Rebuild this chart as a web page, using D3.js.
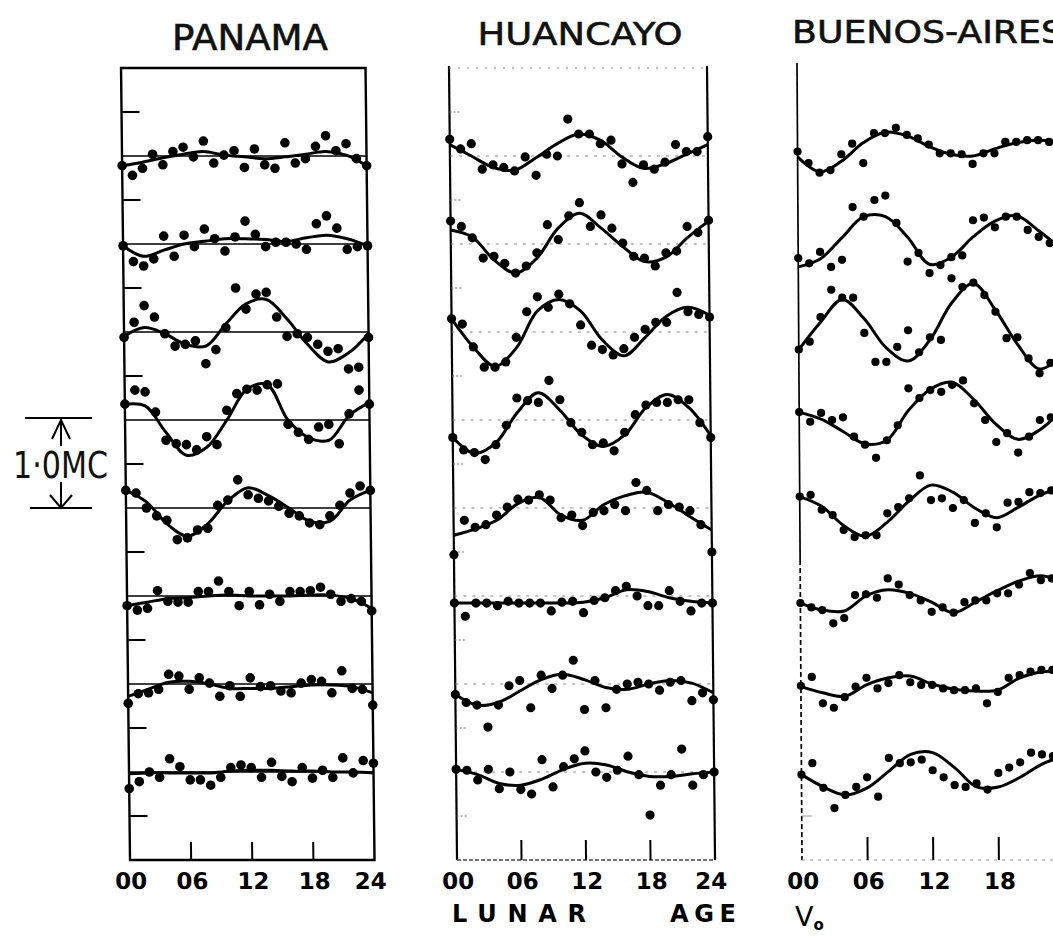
<!DOCTYPE html>
<html><head><meta charset="utf-8">
<script src="https://cdn.jsdelivr.net/npm/d3@7"></script>
<style>body{margin:0;background:#fff}svg{display:block}</style>
</head><body>
<svg id="chart" width="1053" height="936"></svg>
<script>
// ---------- DATA (deviations of foF2 in kc/s; rows stacked 1.0 MC apart) ----------
const stations = ["PANAMA", "HUANCAYO", "BUENOS-AIRES"];
const dotAges = [0,1,2,3,4,5,6,7,8,9,10,11,12,13,14,15,16,17,18,19,20,21,22,23,24];
const curveAges = [0,2,4,6,8,10,12,14,16,18,20,22,24];
const tickAges = [0,6,12,18,24];
const tickLabels = ["00","06","12","18","24"];
const rowOffsets = [0,-1000,-2000,-3000,-4000,-5000,-6000,-7000];
const leftTicks = [500,-500,-1500,-2500,-3500,-4500,-5500,-6500,-7500];

const panamaCurves = [
 [-110,-70,-20,20,50,10,-10,-30,-10,20,50,10,-110],
 [-20,-140,-70,0,30,60,60,50,30,70,100,60,-20],
 [-50,50,-20,-140,-160,90,320,370,150,-140,-340,-240,-20],
 [180,160,-140,-400,-310,0,350,400,0,-200,-230,50,200],
 [200,70,-180,-320,-180,80,230,140,0,-150,-150,90,200],
 [-110,-70,-30,-20,0,10,0,0,0,10,10,-30,-140],
 [-140,-60,20,30,0,-50,-50,-50,-30,-10,-10,-30,-100],
 [-20,-10,-10,-10,-10,10,20,20,10,10,0,0,-10]
];
const panamaDots = [
 [-110,-220,-140,20,-100,50,100,-10,170,-80,10,60,-130,80,-100,-140,150,-80,-30,110,230,60,140,-30,-110],
 [-20,-200,-250,-170,90,-140,100,-30,170,60,-80,80,260,110,-30,20,20,0,-60,230,320,180,-60,-30,-20],
 [-60,110,300,170,-20,-160,-140,-100,-360,-200,50,500,260,430,450,170,-50,-20,-60,-140,-220,-190,-420,-400,-60],
 [180,340,320,90,-230,-270,-280,-340,-190,-280,110,300,350,340,400,410,-50,-140,-220,-80,-50,-270,70,340,180],
 [200,170,0,-90,-140,-360,-340,-250,-230,30,90,320,150,110,80,20,-60,-90,-170,-190,-90,30,170,250,200],
 [-110,-160,-140,60,-60,-70,-70,50,50,170,50,-110,50,-100,20,-60,50,50,60,100,20,-60,-30,-60,-170],
 [-220,-110,-100,-60,110,90,-60,70,10,-140,-20,-140,70,-30,-20,-80,-100,10,50,30,-100,150,-50,-60,-240],
 [-190,-110,0,-60,150,60,-90,-90,-150,-60,50,80,50,-60,110,-50,-110,50,-70,20,-60,160,-10,130,100]
];

const huancayoCurves = [
 [130,0,-130,-160,-20,140,250,180,-10,-140,-90,20,130],
 [160,80,-180,-330,-160,180,350,180,-30,-200,-150,70,260],
 [150,-170,-390,-180,240,370,240,-90,-270,-60,180,280,190],
 [-200,-380,-260,80,310,110,-170,-300,-170,140,290,140,-180],
 [-310,-240,-140,50,120,-80,-140,40,140,180,60,-100,-250],
 [-80,-80,-80,-80,-80,-80,-70,-20,70,50,-20,-60,-80],
 [-120,-240,-210,-80,50,110,50,-40,-60,0,40,10,-100],
 [30,-30,-130,-150,-80,30,100,80,0,-50,-50,-20,0]
];
const huancayoDots = [
 [190,80,140,-150,-100,-130,-170,-10,-220,20,0,420,250,250,140,180,-90,-300,-100,-150,-70,130,50,50,220],
 [260,200,70,-160,-140,-220,-330,-250,-100,220,50,320,470,200,330,180,10,-140,-160,-250,-100,-80,200,130,270],
 [150,90,-170,-400,-400,-340,-60,230,400,280,430,320,80,-150,-200,-260,-190,-60,30,110,110,450,230,200,170],
 [-200,-340,-370,-450,-280,-60,250,220,200,450,230,-30,-140,-280,-260,-350,-140,60,170,200,200,230,230,-30,-200],
 [-530,-140,-220,-190,-80,10,100,90,150,90,-110,-80,-200,-50,-30,40,-30,290,200,-30,40,10,-30,-190,-500],
 [-80,-230,-80,-80,-110,-60,-80,-80,-80,-170,-70,-60,-190,-50,-20,60,110,0,-110,-110,60,-60,-170,-80,-80],
 [-120,-210,-240,-490,-240,-20,40,-270,100,-50,100,270,-290,40,-270,-60,0,20,0,-70,20,40,-190,-100,-180],
 [30,20,-90,30,-190,0,-200,-250,140,-170,60,150,240,0,-60,20,180,-30,-490,-150,-30,260,-150,-30,0]
];

const buenosCurves = [
 [-10,-180,-60,150,270,230,110,20,0,80,150,180,160],
 [-260,-170,70,310,310,80,-230,-150,80,260,320,150,-50],
 [-200,110,370,150,-180,-330,-90,330,550,250,-140,-420,-280],
 [90,10,-130,-270,-230,110,350,430,230,-50,-220,-110,110],
 [130,20,-200,-320,-160,80,260,180,0,-110,10,150,230],
 [-80,-160,-170,0,70,30,-70,-190,-70,60,170,230,160],
 [-30,-100,-140,-10,70,90,0,-60,-80,-70,70,140,140],
 [-30,-170,-260,-180,10,200,220,50,-170,-170,-60,90,180]
];
const buenosDots = [
 [50,-80,-190,-160,20,140,-80,260,260,320,240,200,130,30,30,20,-90,30,30,160,160,180,180,160,160],
 [-160,-220,-90,-260,-180,420,310,500,550,240,-200,-100,-330,-240,-150,-130,270,300,190,310,310,160,80,10,-100],
 [-200,-110,170,480,390,390,-10,-340,-340,-170,20,-230,-60,-90,610,510,560,420,230,-70,-60,-300,-470,-350,-230],
 [90,-20,80,0,30,-190,-280,-430,-230,-60,360,250,340,320,400,450,190,0,-250,-150,-370,-190,0,30,110],
 [130,150,-20,-80,-250,-330,-310,-310,-60,10,110,370,90,110,0,90,-170,-60,-220,60,70,180,170,200,230],
 [-80,-130,-160,-310,-250,10,20,-20,200,130,10,-50,-180,-130,-190,-70,-50,-50,30,30,130,260,180,200,160],
 [-20,80,-220,-270,-150,-30,70,-50,10,100,20,-10,-10,-50,-70,-70,-50,-220,-90,70,100,140,160,160,140],
 [-30,100,-180,-410,-260,-170,-60,-280,160,100,110,140,20,-60,-150,-170,-130,-200,-10,50,110,220,200,180,180]
];

// ---------- LAYOUT ----------
const svg = d3.select("#chart");
const y = d3.scaleLinear().domain([1000, -8000]).range([68, 860]);
const midY = 462;
const FONT = "'DejaVu Sans', Arial, sans-serif";

const panels = [
  {curves: panamaCurves, dots: panamaDots, range: [125.5, 370], skew: 0.65, r: 4.8, kind: "box",
   title: {x: 250, y: 50, size: 35, len: 156, anchor: "middle"}, tickLen: 18, labels: 5},
  {curves: huancayoCurves, dots: huancayoDots, range: [453, 711], skew: 0.58, r: 4.6, kind: "open",
   title: {x: 580, y: 45, size: 32, len: 205, anchor: "middle"}, tickLen: 20, labels: 5},
  {curves: buenosCurves, dots: buenosDots, range: [799.5, 1062], skew: 0.36, r: 4.1, kind: "left",
   title: {x: 792, y: 43, size: 32, len: 272, anchor: "start"}, tickLen: 23, labels: 4}
];

panels.forEach((p, pi) => {
  // title (not skewed)
  svg.append("text")
    .attr("x", p.title.x).attr("y", p.title.y)
    .attr("text-anchor", p.title.anchor)
    .attr("font-family", FONT).attr("font-size", p.title.size)
    .attr("textLength", p.title.len).attr("lengthAdjust", "spacingAndGlyphs")
    .attr("fill", "#111").attr("stroke", "#111").attr("stroke-width", 0.6)
    .text(stations[pi]);

  const g = svg.append("g")
    .attr("transform", `translate(0,${midY}) skewX(${p.skew}) translate(0,${-midY})`);
  const x = d3.scaleLinear().domain([0, 24]).range(p.range);
  const top = y(1000), bot = y(-8000);

  // frame
  if (p.kind === "box") {
    g.append("rect").attr("x", x(0)).attr("y", top)
      .attr("width", x(24) - x(0)).attr("height", bot - top)
      .attr("fill", "none").attr("stroke", "#000").attr("stroke-width", 2.4);
    rowOffsets.forEach(o => g.append("line")
      .attr("x1", x(0)).attr("x2", x(24)).attr("y1", y(o)).attr("y2", y(o))
      .attr("stroke", "#000").attr("stroke-width", 1.5));
    leftTicks.forEach(v => g.append("line")
      .attr("x1", x(0)).attr("x2", x(0) + 18).attr("y1", y(v)).attr("y2", y(v))
      .attr("stroke", "#000").attr("stroke-width", 1.8));
  } else if (p.kind === "open") {
    [0, 24].forEach(a => g.append("line")
      .attr("x1", x(a)).attr("x2", x(a)).attr("y1", top - 2).attr("y2", bot)
      .attr("stroke", "#000").attr("stroke-width", 2.2));
    g.append("line").attr("x1", x(0)).attr("x2", x(24)).attr("y1", top).attr("y2", top)
      .attr("stroke", "#888").attr("stroke-width", 1.2).attr("stroke-dasharray", "2,7");
    g.append("line").attr("x1", x(0)).attr("x2", x(24)).attr("y1", bot).attr("y2", bot)
      .attr("stroke", "#444").attr("stroke-width", 1.6).attr("stroke-dasharray", "4,2");
    rowOffsets.forEach(o => g.append("line")
      .attr("x1", x(0)).attr("x2", x(24)).attr("y1", y(o)).attr("y2", y(o))
      .attr("stroke", "#888").attr("stroke-width", 1).attr("stroke-dasharray", "3,6"));
    leftTicks.forEach(v => g.append("line")
      .attr("x1", x(0)).attr("x2", x(0) + 12).attr("y1", y(v)).attr("y2", y(v))
      .attr("stroke", "#777").attr("stroke-width", 1.2).attr("stroke-dasharray", "2,2"));
  } else {
    g.append("line").attr("x1", x(0)).attr("x2", x(0)).attr("y1", top - 5).attr("y2", 560)
      .attr("stroke", "#000").attr("stroke-width", 1.7);
    g.append("line").attr("x1", x(0)).attr("x2", x(0)).attr("y1", 560).attr("y2", bot)
      .attr("stroke", "#000").attr("stroke-width", 1.7).attr("stroke-dasharray", "5,3");
    g.append("line").attr("x1", x(0)).attr("x2", x(24)).attr("y1", bot).attr("y2", bot)
      .attr("stroke", "#999").attr("stroke-width", 1.2).attr("stroke-dasharray", "3,5");
    g.append("line").attr("x1", x(0)).attr("x2", x(0) + 10).attr("y1", y(-7500)).attr("y2", y(-7500))
      .attr("stroke", "#999").attr("stroke-width", 1);
  }

  // bottom ticks and labels
  tickAges.slice(1, 4).forEach(a => g.append("line")
    .attr("x1", x(a)).attr("x2", x(a)).attr("y1", bot).attr("y2", bot - p.tickLen)
    .attr("stroke", "#000").attr("stroke-width", 2));
  tickAges.slice(0, p.labels).forEach((a, i) => g.append("text")
    .attr("x", x(a) + (i === 4 ? -4 : 1)).attr("y", 889)
    .attr("text-anchor", "middle").attr("font-family", FONT)
    .attr("font-weight", "bold").attr("font-size", 23).attr("fill", "#000")
    .text(tickLabels[i]));

  // curves and dots
  const line = d3.line()
    .x(d => x(d[0])).y(d => y(d[1]))
    .curve(d3.curveCatmullRom.alpha(0.5));
  p.curves.forEach((row, ri) => {
    const pts = curveAges.map((a, k) => [a, rowOffsets[ri] + row[k]]);
    g.append("path").attr("d", line(pts))
      .attr("fill", "none").attr("stroke", "#000").attr("stroke-width", 3);
  });
  p.dots.forEach((row, ri) => {
    g.append("g").selectAll("circle")
      .data(dotAges.map((a, k) => [a, rowOffsets[ri] + row[k]]))
      .join("circle")
      .attr("cx", d => x(d[0])).attr("cy", d => y(d[1])).attr("r", p.r)
      .attr("fill", "#000");
  });
});

// ---------- scale bar ----------
const sb = svg.append("g").attr("stroke", "#000").attr("stroke-width", 2).attr("fill", "none");
sb.append("line").attr("x1", 25).attr("x2", 92).attr("y1", y(-3000) - 2).attr("y2", y(-3000) - 2);
sb.append("line").attr("x1", 30).attr("x2", 92).attr("y1", y(-4000)).attr("y2", y(-4000));
sb.append("path").attr("d", `M61,${y(-3000)} V${y(-3000) + 26} M52,${y(-3000) + 19} L61,${y(-3000)} L70,${y(-3000) + 19}`);
sb.append("path").attr("d", `M61,${y(-4000)} V${y(-4000) - 26} M50,${y(-4000) - 13} L61,${y(-4000)} L72,${y(-4000) - 13}`);
svg.append("text").attr("x", 13).attr("y", 478)
  .attr("font-family", FONT).attr("font-size", 37)
  .attr("textLength", 95).attr("lengthAdjust", "spacingAndGlyphs")
  .attr("fill", "#111").text("1·0MC");

// ---------- axis captions ----------
svg.append("text").attr("x", 452).attr("y", 922)
  .attr("font-family", FONT).attr("font-weight", "bold").attr("font-size", 24)
  .attr("textLength", 134).attr("lengthAdjust", "spacing").text("LUNAR");
svg.append("text").attr("x", 670).attr("y", 922)
  .attr("font-family", FONT).attr("font-weight", "bold").attr("font-size", 24)
  .attr("textLength", 66).attr("lengthAdjust", "spacing").text("AGE");
const nu = svg.append("text").attr("x", 795).attr("y", 926)
  .attr("font-family", FONT).attr("font-size", 27);
nu.append("tspan").text("V");
nu.append("tspan").attr("font-size", 15).attr("font-weight", "bold").attr("dy", 4).text("o");
</script>
</body></html>
